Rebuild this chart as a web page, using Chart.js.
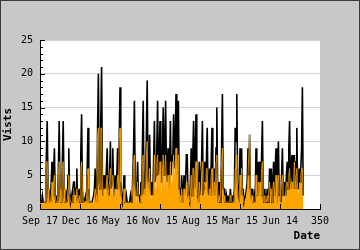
<!DOCTYPE html>
<html>
<head>
<meta charset="utf-8">
<script src="https://cdn.jsdelivr.net/npm/chart.js@4.4.1/dist/chart.umd.min.js"></script>
<style>
  html, body { margin: 0; padding: 0; background: #c8c8c8; }
  canvas { display: block; }
</style>
</head>
<body>
<canvas id="visits-chart" width="360" height="250"></canvas>
<script>
// valores, un punto por dia
var xTickLabels = ['Sep 17', 'Dec 16', 'May 16', 'Nov 15', 'Aug 15', 'Mar 15', 'Jun 14', '350'];
var yTicks = [0, 5, 10, 15, 20, 25];

var visits = [
    1, 1, 1, 2, 1, 1, 1, 1, 8, 13,
    3, 1, 2, 1, 4, 7, 2, 5, 9, 2,
    1, 2, 1, 6, 13, 3, 1, 1, 7, 13,
    3, 1, 1, 2, 1, 5, 9, 2, 1, 2,
    1, 3, 4, 4, 2, 3, 6, 1, 2, 3,
    1, 8, 14, 3, 1, 1, 1, 2, 1, 6,
    12, 3, 1, 1, 1, 1, 1, 2, 3, 6,
    2, 1, 12, 20, 4, 3, 13, 21, 5, 2,
    5, 3, 3, 6, 9, 3, 2, 5, 10, 3,
    4, 9, 3, 2, 5, 3, 5, 9, 3, 10,
    18, 4, 2, 1, 2, 5, 1, 1, 2, 1,
    1, 1, 1, 2, 1, 1, 1, 9, 16, 4,
    2, 3, 7, 2, 2, 1, 4, 2, 9, 16,
    3, 2, 5, 11, 19, 5, 3, 11, 3, 2,
    4, 2, 7, 13, 4, 5, 9, 16, 5, 6,
    13, 4, 4, 8, 15, 5, 9, 16, 6, 4,
    9, 3, 6, 13, 5, 8, 7, 14, 6, 10,
    17, 5, 9, 16, 3, 3, 1, 5, 3, 1,
    5, 2, 4, 8, 8, 2, 2, 1, 4, 9,
    2, 8, 13, 3, 8, 14, 3, 2, 1, 7,
    2, 2, 7, 13, 2, 3, 7, 4, 7, 12,
    3, 2, 6, 2, 7, 12, 2, 3, 6, 2,
    9, 15, 4, 1, 4, 1, 2, 9, 17, 3,
    3, 1, 1, 2, 1, 2, 1, 1, 3, 1,
    1, 2, 1, 3, 12, 10, 17, 4, 2, 1,
    9, 3, 9, 2, 3, 1, 1, 2, 3, 4,
    9, 5, 11, 3, 2, 3, 1, 1, 2, 1,
    9, 2, 2, 7, 3, 7, 2, 8, 13, 2,
    1, 3, 1, 1, 3, 1, 2, 6, 2, 6,
    1, 4, 7, 2, 6, 9, 1, 5, 10, 2,
    2, 1, 5, 9, 2, 2, 4, 2, 5, 7,
    3, 9, 13, 3, 6, 8, 3, 5, 8, 3,
    7, 12, 3, 3, 6, 4, 6, 9, 18, 2
];

var uniques = [
    1, 1, 1, 1, 1, 1, 1, 1, 7, 7,
    3, 1, 1, 1, 2, 4, 2, 4, 5, 2,
    1, 1, 1, 5, 7, 3, 1, 1, 6, 7,
    3, 1, 1, 1, 1, 3, 5, 2, 1, 1,
    1, 2, 2, 2, 2, 2, 3, 1, 1, 2,
    1, 6, 7, 3, 1, 1, 1, 1, 1, 5,
    6, 3, 1, 1, 1, 1, 1, 1, 2, 3,
    2, 1, 11, 12, 4, 3, 12, 12, 4, 2,
    3, 2, 2, 4, 5, 2, 2, 4, 6, 3,
    2, 5, 3, 2, 3, 2, 3, 5, 3, 10,
    12, 4, 1, 1, 1, 3, 1, 1, 1, 1,
    1, 1, 1, 1, 1, 1, 1, 7, 8, 3,
    1, 2, 4, 1, 1, 1, 2, 1, 7, 8,
    3, 1, 3, 8, 10, 4, 2, 6, 2, 1,
    2, 1, 4, 8, 3, 3, 7, 8, 4, 3,
    7, 3, 2, 5, 8, 3, 6, 8, 4, 2,
    5, 2, 3, 7, 3, 4, 5, 8, 4, 6,
    9, 4, 6, 8, 2, 2, 1, 3, 2, 1,
    3, 1, 2, 4, 4, 2, 1, 1, 2, 5,
    2, 6, 6, 2, 6, 7, 2, 1, 1, 4,
    2, 1, 5, 7, 2, 2, 4, 3, 6, 6,
    2, 1, 3, 2, 5, 6, 2, 2, 4, 1,
    7, 8, 3, 1, 2, 1, 1, 7, 9, 2,
    2, 1, 1, 1, 1, 1, 1, 1, 2, 1,
    1, 1, 1, 2, 6, 6, 8, 3, 1, 1,
    5, 3, 6, 2, 2, 1, 1, 1, 2, 3,
    5, 5, 11, 3, 1, 2, 1, 1, 1, 1,
    5, 2, 1, 4, 3, 4, 2, 6, 7, 2,
    1, 2, 1, 1, 2, 1, 1, 4, 2, 3,
    1, 3, 4, 2, 4, 5, 1, 4, 5, 2,
    1, 1, 4, 5, 2, 1, 2, 2, 4, 4,
    3, 5, 6, 3, 4, 4, 3, 4, 7, 3,
    5, 6, 3, 2, 3, 4, 5, 6, 6, 2
];

var monoFont = "'DejaVu Sans Mono', monospace";

// fondo gris, area blanca, marco y marcas hacia dentro
var frame = {
    id: 'frame',
    beforeDraw: function (chart) {
        var ctx = chart.ctx, a = chart.chartArea;
        ctx.save();
        ctx.fillStyle = '#c8c8c8';
        ctx.fillRect(0, 0, chart.width, chart.height);
        ctx.fillStyle = '#ffffff';
        ctx.fillRect(a.left, a.top, a.right - a.left, a.bottom - a.top);
        ctx.strokeStyle = '#3a3a3a';
        ctx.lineWidth = 1;
        ctx.strokeRect(0.5, 0.5, chart.width - 1, chart.height - 1);
        ctx.restore();
    },
    afterDraw: function (chart) {
        var ctx = chart.ctx, a = chart.chartArea;
        var xs = chart.scales.x, ys = chart.scales.y;
        ctx.save();
        ctx.strokeStyle = '#000';
        ctx.lineWidth = 1;
        ctx.beginPath();
        for (var v = 0; v <= 25; v++) {
            var y = Math.round(ys.getPixelForValue(v)) + 0.5;
            var len = (v % 5 === 0) ? 5 : 3;
            ctx.moveTo(a.left, y);
            ctx.lineTo(a.left + len, y);
        }
        for (var i = 0; i < xTickLabels.length; i++) {
            var x = Math.round(xs.getPixelForValue(i * 50)) + 0.5;
            ctx.moveTo(x, a.bottom);
            ctx.lineTo(x, a.bottom - 5);
        }
        ctx.stroke();
        ctx.restore();
    }
};

var ctx = document.getElementById('visits-chart').getContext('2d');
var myChart = new Chart(ctx, {
    type: 'line',
    data: {
        datasets: [{
            // naranja primero: su linea queda encima de la negra
            label: 'Unique',
            data: uniques.map(function (v, i) { return { x: i, y: v }; }),
            borderColor: '#ffa500',
            backgroundColor: '#ffa500',
            borderWidth: 0.8,
            pointRadius: 0,
            fill: 'origin',
            tension: 0
        }, {
            label: 'Visits',
            data: visits.map(function (v, i) { return { x: i, y: v }; }),
            borderColor: '#000',
            borderWidth: 1.6,
            pointRadius: 0,
            fill: false,
            tension: 0
        }]
    },
    options: {
        responsive: false,
        animation: false,
        devicePixelRatio: 1,
        layout: { padding: { top: 40, right: 40, left: 0, bottom: 0 } },
        plugins: {
            legend: { display: false },
            tooltip: { enabled: false },
            filler: { drawTime: 'beforeDatasetsDraw' }
        },
        scales: {
            x: {
                type: 'linear',
                min: 0,
                max: 350,
                afterFit: function (s) { s.height = 41; },
                grid: { display: false, drawTicks: false },
                border: { display: true, color: '#000', width: 1 },
                ticks: {
                    stepSize: 50,
                    autoSkip: false,
                    maxRotation: 0,
                    padding: 6,
                    color: '#000',
                    font: { family: monoFont, size: 10 },
                    callback: function (value) { return xTickLabels[value / 50]; }
                },
                title: {
                    display: true,
                    text: 'Date',
                    align: 'end',
                    color: '#000',
                    font: { family: monoFont, size: 11, weight: 'bold' },
                    padding: { top: 0, bottom: 7 }
                }
            },
            y: {
                min: yTicks[0],
                max: yTicks[yTicks.length - 1],
                afterFit: function (s) { s.width = 40; },
                grid: { color: '#d4d4d4', drawTicks: false },
                border: { display: true, color: '#000', width: 1 },
                ticks: {
                    stepSize: 5,
                    padding: 7,
                    color: '#000',
                    font: { family: monoFont, size: 10 }
                },
                title: {
                    display: true,
                    text: 'Vists',
                    color: '#000',
                    font: { family: monoFont, size: 11, weight: 'bold' },
                    padding: { top: 2, bottom: 0 }
                }
            }
        }
    },
    plugins: [frame]
});
</script>
</body>
</html>
